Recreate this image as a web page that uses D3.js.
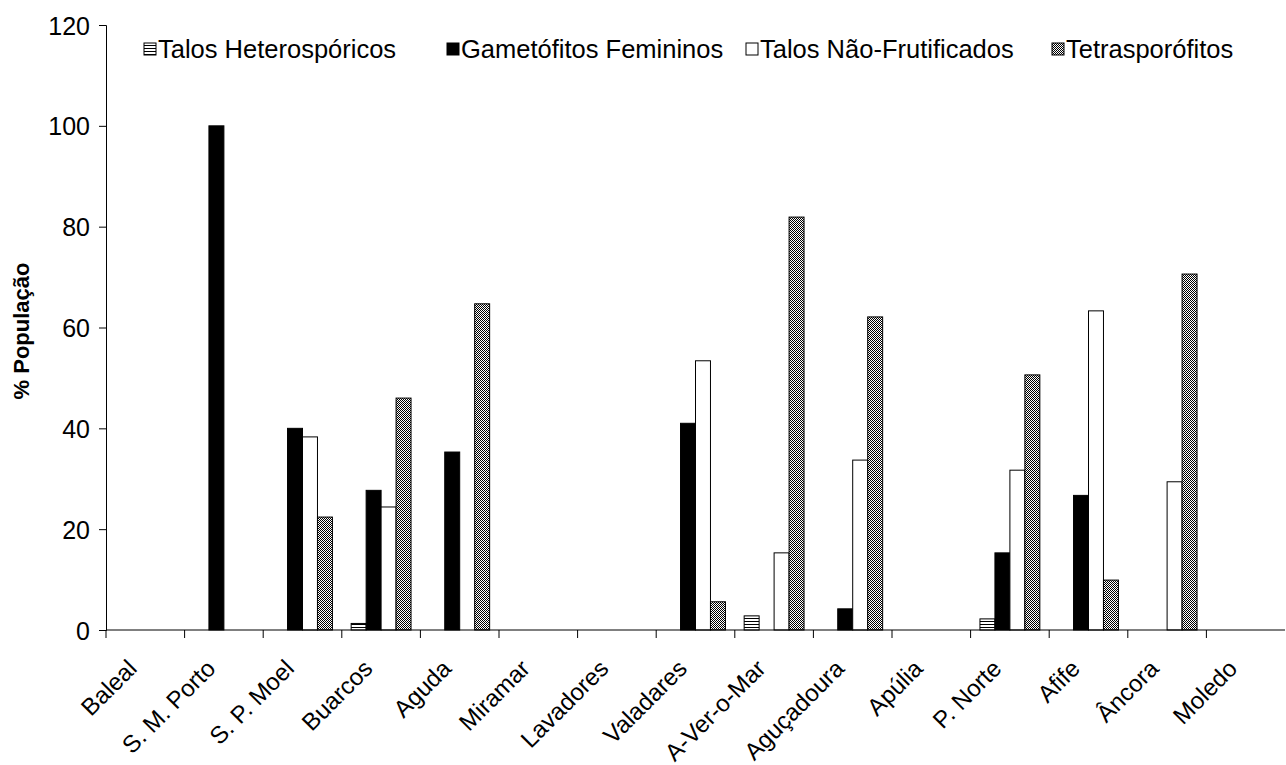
<!DOCTYPE html>
<html><head><meta charset="utf-8">
<script src="https://cdn.jsdelivr.net/npm/d3@7"></script>
<style>body{margin:0;background:#fff}svg{display:block}text{font-family:"Liberation Sans",Arial,sans-serif}</style>
</head><body>
<svg id="c" width="1286" height="765"></svg>
<script>
const categories = ["Baleal","S. M. Porto","S. P. Moel","Buarcos","Aguda","Miramar","Lavadores","Valadares","A-Ver-o-Mar","Aguçadoura","Apúlia","P. Norte","Afife","Âncora","Moledo"];
const seriesNames = ["Talos Heterospóricos","Gametófitos Femininos","Talos Não-Frutificados","Tetrasporófitos"];
const heterosporicos = [0,0,0,1.3,0,0,0,0,2.8,0,0,2.2,0,0,0];
const gametofitos = [0,100,40,27.7,35.3,0,0,41,0,4.2,0,15.3,26.7,0,0];
const naoFrutificados = [0,0,38.3,24.4,0,0,0,53.4,15.3,33.7,0,31.7,63.3,29.4,0];
const tetrasporofitos = [0,0,22.4,46,64.7,0,0,5.6,81.9,62.1,0,50.6,9.9,70.6,0];
const yTicks = [0,20,40,60,80,100,120];

(function(){
const series = [heterosporicos, gametofitos, naoFrutificados, tetrasporofitos];
const svg = d3.select("#c");
const defs = svg.append("defs");
const ph = defs.append("pattern").attr("id","hstripe").attr("patternUnits","userSpaceOnUse").attr("width",6).attr("height",3);
ph.append("rect").attr("width",6).attr("height",3).attr("fill","#fff");
ph.append("rect").attr("y",0).attr("width",6).attr("height",1).attr("fill","#000");
const pc = defs.append("pattern").attr("id","checker").attr("patternUnits","userSpaceOnUse").attr("width",2).attr("height",2);
pc.append("rect").attr("width",2).attr("height",2).attr("fill","#fff");
pc.append("rect").attr("width",1).attr("height",1).attr("fill","#000");
pc.append("rect").attr("x",1).attr("y",1).attr("width",1).attr("height",1).attr("fill","#000");
const fills = ["url(#hstripe)","#000","#fff","url(#checker)"];

const mL = 106, mR = 1285, mT = 25, mB = 630;
const x = d3.scaleBand().domain(categories).range([mL, mR]).paddingInner(0).paddingOuter(0);
const y = d3.scaleLinear().domain([0,120]).range([mB, mT]);
const bw = x.bandwidth()/5.25;
const inner = d3.scaleBand().domain(d3.range(4)).range([(x.bandwidth()-4*bw)/2, (x.bandwidth()+4*bw)/2]);

const g = svg.append("g");
series.forEach((vals, si) => {
  g.selectAll(null).data(vals.map((v,i)=>({v, c:categories[i]})).filter(d=>d.v>0))
    .enter().append("rect")
    .attr("x", d => x(d.c) + inner(si))
    .attr("y", d => y(d.v))
    .attr("width", inner.bandwidth())
    .attr("height", d => y(0) - y(d.v))
    .attr("fill", fills[si])
    .attr("stroke", "#000").attr("stroke-width", 1);
});

const ya = svg.append("g").attr("transform", `translate(${mL},0)`)
  .call(d3.axisLeft(y).tickValues(yTicks).tickSize(7).tickPadding(9));
ya.selectAll("text").attr("font-size", 25).attr("fill","#000").attr("dy","0.36em").style("font-family","Liberation Sans, Arial, sans-serif");
ya.selectAll("line,path").attr("stroke","#000");

const xa = svg.append("g").attr("transform", `translate(0,${mB})`);
xa.append("line").attr("x1",mL).attr("x2",mR).attr("stroke","#000");
const bounds = categories.map(c => x(c));
xa.selectAll(null).data(bounds).enter().append("line")
  .attr("x1",d=>d).attr("x2",d=>d).attr("y1",0).attr("y2",8).attr("stroke","#000");
xa.selectAll(null).data(categories).enter().append("text")
  .attr("transform", d => `translate(${x(d)+x.bandwidth()/2-7},${40}) rotate(-45)`)
  .attr("text-anchor","end").attr("font-size",24).attr("fill","#000").text(d=>d);

svg.append("text").attr("transform",`translate(29,331) rotate(-90)`)
  .attr("text-anchor","middle").attr("font-size",22).attr("font-weight","bold").text("% População");

const legX = [144, 447, 746, 1052];
const leg = svg.append("g");
seriesNames.forEach((n,i) => {
  leg.append("rect").attr("x",legX[i]).attr("y",43).attr("width",12).attr("height",12)
    .attr("fill",fills[i]).attr("stroke","#000").attr("stroke-width",1);
  leg.append("text").attr("x",legX[i]+14).attr("y",58).attr("font-size",25.5).attr("fill","#000").text(n);
});
})();
</script>
</body></html>
